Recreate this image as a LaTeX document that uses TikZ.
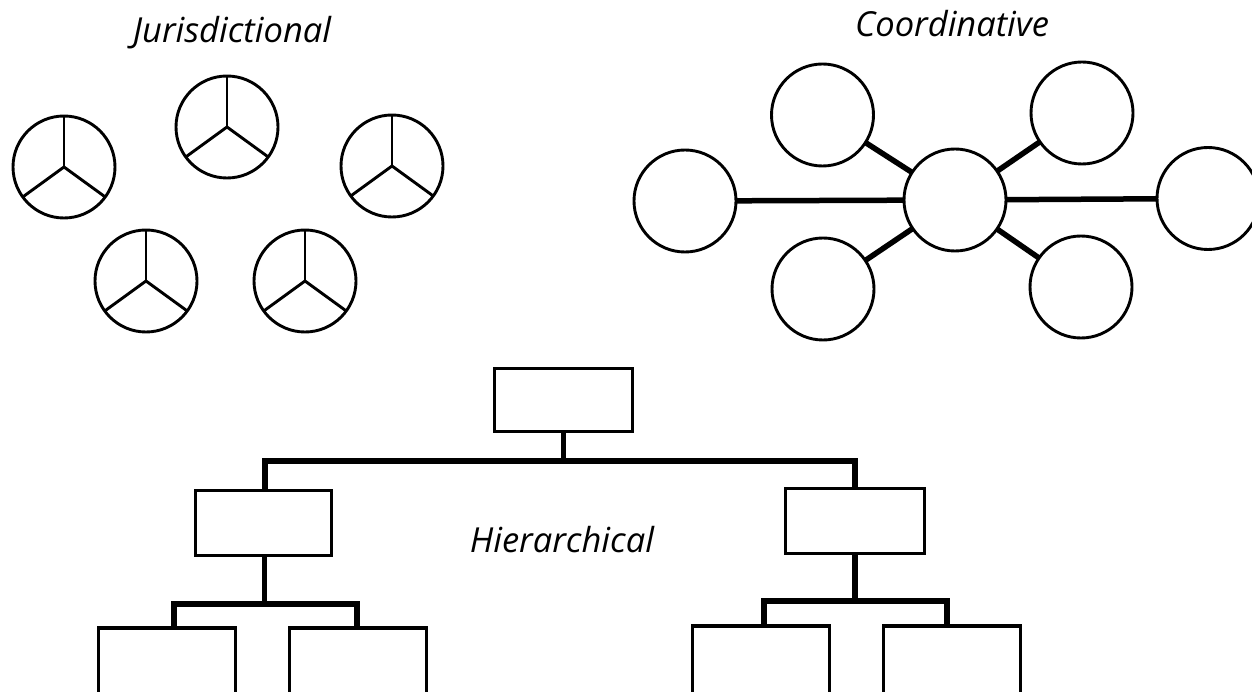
\documentclass[tikz,border=0pt]{standalone}
\usepackage{fontspec}
\setmainfont{Open Sans}
\begin{document}
\begin{tikzpicture}[x=1pt,y=-1pt,
  lbl/.style={font=\fontsize{34.5}{40}\selectfont\itshape, anchor=base, inner sep=0pt},
  ring/.style={circle, draw, line width=2.9pt, minimum size=102pt, inner sep=0pt, outer sep=0pt},
  spoke/.style={line width=2.9pt},
  link/.style={line width=5.5pt},
  hbox/.style={draw, line width=3.2pt, inner sep=0pt, outer sep=0pt},
  bus/.style={line width=5.6pt}
]
\useasboundingbox (0,0) rectangle (1252,692);
\clip (0,0) rectangle (1252,692);

% ---------- Jurisdictional ----------
\node[lbl] (tj) at (232,43) {Jurisdictional};
\foreach \n/\x/\y in {j1/64/167, j2/227/127, j3/392/166, j4/146/281, j5/305/281}{
  \node[ring] (\n) at (\x,\y) {};
  \draw[spoke] (\n.center) -- (\n.north);
  \draw[spoke] (\n.center) -- (\n.216);
  \draw[spoke] (\n.center) -- (\n.324);
}

% ---------- Coordinative ----------
\node[lbl] (tc) at (952,37) {Coordinative};
\node[ring] (cc)  at (955,200) {};
\node[ring] (cl)  at (685,201) {};
\node[ring] (cr)  at (1208,198.5) {};
\node[ring] (ctl) at (822.5,115) {};
\node[ring] (cbl) at (823,289) {};
\node[ring] (ctr) at (1082,113) {};
\node[ring] (cbr) at (1081,287) {};
\draw[link] (cl) -- (cc);
\draw[link] (cc) -- (cr);
\draw[link] (ctl) -- (cc);
\draw[link] (cbl) -- (cc);
\draw[link] (ctr) -- (cc);
\draw[link] (cbr) -- (cc);

% ---------- Hierarchical ----------
\node[lbl] (th) at (562,552) {Hierarchical};
\node[hbox, minimum width=138pt, minimum height=63pt] (top) at (563.5,400) {};
\node[hbox, minimum width=136pt, minimum height=65pt] (ml) at (263.5,523) {};
\node[hbox, minimum width=139pt, minimum height=65pt] (mr) at (855,521) {};
\node[hbox, minimum width=137pt, minimum height=100pt] (bl1) at (167,678) {};
\node[hbox, minimum width=137pt, minimum height=100pt] (bl2) at (358,678) {};
\node[hbox, minimum width=137pt, minimum height=100pt] (br1) at (761,676) {};
\node[hbox, minimum width=137pt, minimum height=100pt] (br2) at (952,676) {};

\coordinate (busY) at (0,461);
\coordinate (subL) at (0,604);
\coordinate (subR) at (0,601);

\draw[bus] (top.south) -- (top.south |- busY);
\draw[bus] ([xshift=1.5pt]ml.north) -- ([xshift=1.5pt]ml.north |- busY) -- (mr.north |- busY) -- (mr.north);

\draw[bus] ([xshift=1pt]ml.south) -- ([xshift=1pt]ml.south |- subL);
\draw[bus] ([xshift=7pt]bl1.north) -- ([xshift=7pt]bl1.north |- subL) -- ([xshift=-1pt]bl2.north |- subL) -- ([xshift=-1pt]bl2.north);

\draw[bus] (mr.south) -- (mr.south |- subR);
\draw[bus] ([xshift=3pt]br1.north) -- ([xshift=3pt]br1.north |- subR) -- ([xshift=-5pt]br2.north |- subR) -- ([xshift=-5pt]br2.north);
\end{tikzpicture}
\end{document}
